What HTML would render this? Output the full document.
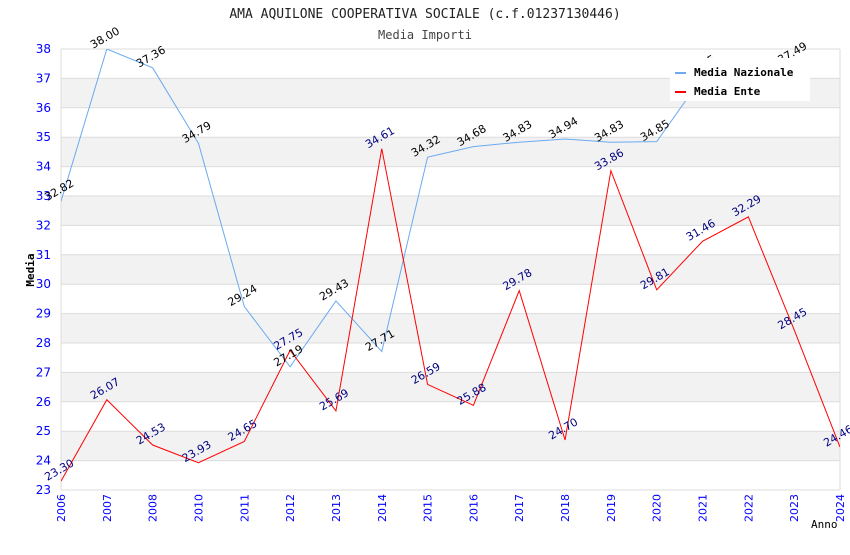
<!DOCTYPE html>
<html><head><meta charset="utf-8"><style>
body{margin:0;background:#fff;}
svg text{font-family:"DejaVu Sans","Liberation Sans",sans-serif;}
svg text.mono{font-family:"DejaVu Sans Mono","Liberation Mono",monospace;}
</style></head><body>
<svg id="c" width="850" height="550"></svg>
<script>
const years=["2006","2007","2008","2010","2011","2012","2013","2014","2015","2016","2017","2018","2019","2020","2021","2022","2023","2024"];
const nazionale=[32.82,38.00,37.36,34.79,29.24,27.19,29.43,27.71,34.32,34.68,34.83,34.94,34.83,34.85,37.05,36.80,37.49,null];
const ente=[23.30,26.07,24.53,23.93,24.65,27.75,25.69,34.61,26.59,25.88,29.78,24.70,33.86,29.81,31.46,32.29,28.45,24.46];
const yTicks=[23,24,25,26,27,28,29,30,31,32,33,34,35,36,37,38];
const X0=61,X1=840,Y0=490,Y1=49,YMIN=23,YMAX=38;
const xs=i=>X0+i*(X1-X0)/(years.length-1);
const ys=v=>Y0-(v-YMIN)*(Y0-Y1)/(YMAX-YMIN);
const svg=document.getElementById('c');const NS='http://www.w3.org/2000/svg';
function mk(t,a,p){const e=document.createElementNS(NS,t);for(const k in a)e.setAttribute(k,a[k]);(p||svg).appendChild(e);return e;}
const defs=mk('defs',{});const cp=mk('clipPath',{id:'cl'},defs);mk('rect',{x:X0,y:Y1,width:X1-X0,height:Y0-Y1},cp);
for(let i=0;i<yTicks.length-1;i++){const v=yTicks[i];
 const r=mk('rect',{x:X0,y:ys(v+1),width:X1-X0,height:ys(v)-ys(v+1),fill:(v%2===0&&v>=24)?'#f2f2f2':'#fff'});
 }
yTicks.forEach(v=>{const l=mk('line',{x1:X0,x2:X1,y1:ys(v),y2:ys(v),stroke:'#dcdcdc'});
 
 const t=mk('text',{x:51,y:ys(v)+4,'text-anchor':'end','font-size':12,fill:'#0000ff'});t.textContent=v;
 });
mk('line',{x1:X1,x2:X1,y1:Y1,y2:Y0,stroke:'#dcdcdc'});mk('line',{x1:X0,x2:X0,y1:Y1,y2:Y0,stroke:'#dcdcdc'});
years.forEach((y,i)=>{const t=mk('text',{transform:`translate(${xs(i)+4},${Y0+4}) rotate(-90)`,'text-anchor':'end','font-size':11,fill:'#0000ff'});t.textContent=y;
 });
const labels=[];
function series(arr,col,lblCol,name){let d='';arr.forEach((v,i)=>{if(v==null)return;d+=(d?'L':'M')+xs(i)+','+ys(v);});
 const p=mk('path',{d,fill:'none',stroke:col,'stroke-width':1,'clip-path':'url(#cl)'});
 
 arr.forEach((v,i)=>{if(v==null)return;labels.push([xs(i),ys(v),v,lblCol,name]);});}
series(nazionale,'#6aaaf0','#000','nazionale');
series(ente,'#ff0000','#000080','ente');
labels.forEach(([x,y,v,c,name])=>{const t=mk('text',{transform:`translate(${x},${y-8}) rotate(-30)`,'text-anchor':'middle','font-size':11,fill:c});
  t.textContent=v.toFixed(2);});
const tt=mk('text',{x:425,y:18,'text-anchor':'middle','font-size':13,fill:'#222',class:'mono'});tt.textContent='AMA AQUILONE COOPERATIVA SOCIALE (c.f.01237130446)';

const st=mk('text',{x:425,y:39,'text-anchor':'middle','font-size':12,fill:'#444',class:'mono'});st.textContent='Media Importi';

const ya=mk('text',{transform:'translate(34,270) rotate(-90)','text-anchor':'middle','font-size':11,'font-weight':'bold',fill:'#000',class:'mono'});ya.textContent='Media';

const xa=mk('text',{x:811,y:528,'font-size':11,fill:'#000',class:'mono'});xa.textContent='Anno';

const lg=mk('g',{});
mk('rect',{x:670,y:58,width:140,height:43,fill:'#fff'},lg);
[['Media Nazionale','#6aaaf0',72],['Media Ente','#ff0000',91]].forEach(([n,c,y])=>{
 mk('rect',{x:675,y:y,width:11,height:2,fill:c},lg);
 const t=mk('text',{x:694,y:y+4,'font-size':11,'font-weight':'bold',fill:'#000',class:'mono'},lg);t.textContent=n;
 });
</script></body></html>
